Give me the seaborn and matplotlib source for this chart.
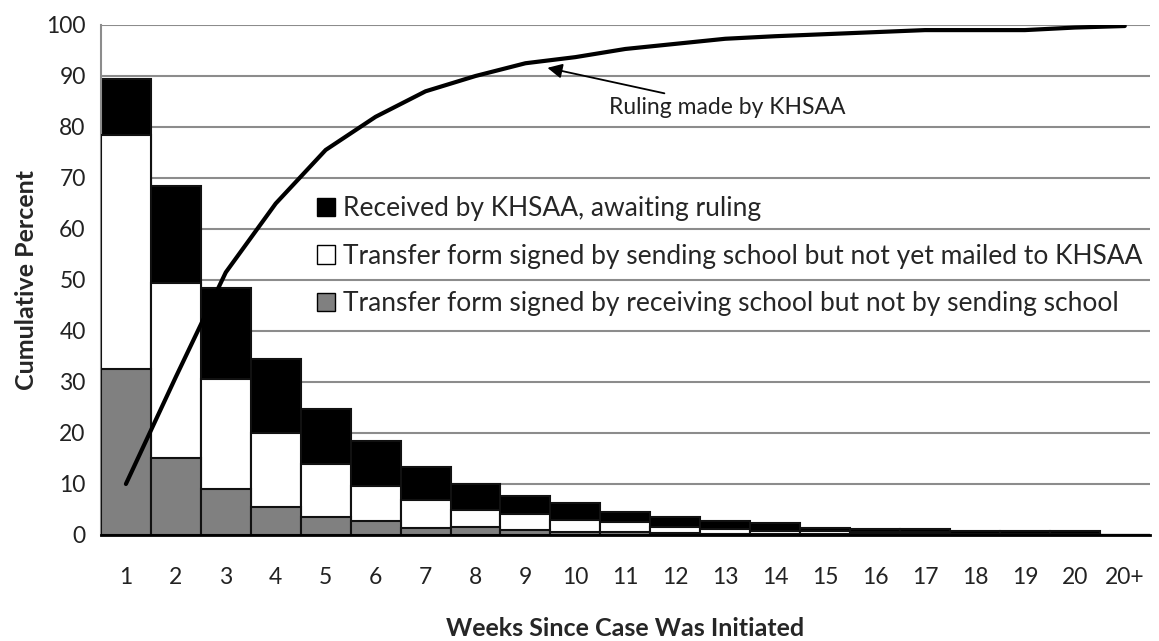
import numpy as np
import pandas as pd
import matplotlib
matplotlib.use("Agg")
import matplotlib.pyplot as plt
from matplotlib.patches import Patch
import seaborn as sns

# values (cumulative heights of each stack level)
weeks = ['1', '2', '3', '4', '5', '6', '7', '8', '9', '10',
         '11', '12', '13', '14', '15', '16', '17', '18', '19', '20', '20+']
receiving = [32.5, 15, 9, 5.5, 3.5, 2.8, 1.4, 1.5, 1.0, 0.6,
             0.6, 0.3, 0.2, 0.1, 0.1, 0.1, 0.1, 0.0, 0.0, 0.0, 0.0]
sending_top = [78.5, 49.5, 30.5, 20, 14, 9.6, 6.9, 4.8, 4.1, 2.9,
               2.5, 1.6, 1.2, 0.8, 0.7, 0.5, 0.5, 0.2, 0.2, 0.2, 0.0]
total = [89.5, 68.5, 48.5, 34.5, 24.8, 18.5, 13.3, 9.9, 7.7, 6.3,
         4.6, 3.5, 2.7, 2.4, 1.4, 1.2, 1.2, 0.8, 0.8, 0.8, 0.0]
ruling = [10, 31, 51.5, 65, 75.5, 82, 87, 90, 92.5, 93.7,
          95.3, 96.3, 97.3, 97.8, 98.2, 98.6, 99, 99, 99, 99.5, 99.8]

df = pd.DataFrame({'week': weeks, 'receiving': receiving,
                   'sending_top': sending_top, 'total': total})

sns.set_style("white")
plt.rcParams['font.family'] = ['Lato', 'DejaVu Sans']

fig = plt.figure(figsize=(11.59, 6.41), dpi=100)
ax = fig.add_axes([0.0871, 0.1654, 0.9049, 0.7956])

sns.barplot(data=df, x='week', y='total', color='black', width=1.0,
            edgecolor='#111111', linewidth=1.5, saturation=1, ax=ax, zorder=2)
sns.barplot(data=df, x='week', y='sending_top', color='white', width=1.0,
            edgecolor='#111111', linewidth=1.5, saturation=1, ax=ax, zorder=3)
sns.barplot(data=df, x='week', y='receiving', color='#808080', width=1.0,
            edgecolor='#111111', linewidth=1.5, saturation=1, ax=ax, zorder=4)

x = np.arange(len(weeks))
ax.plot(x, ruling, color='black', lw=3, zorder=5, solid_joinstyle='miter')

ax.annotate('Ruling made by KHSAA', xy=(8.44, 91.6), xytext=(9.68, 83.9),
            fontsize=16.5, color='#222222', va='center', ha='left',
            arrowprops=dict(arrowstyle='-|>', color='black', lw=1.3,
                            mutation_scale=22, shrinkA=0, shrinkB=0))

ax.set_xlim(-0.5, len(weeks) - 0.5)
ax.set_ylim(0, 100)
ax.set_yticks(range(0, 101, 10))
ax.yaxis.grid(True, color='#8c8c8c', lw=1.5, zorder=0)
ax.set_axisbelow(True)

ax.set_xticks(x)
ax.set_xticklabels(weeks)
ax.set_xticks(np.arange(-0.5, len(weeks), 1), minor=True)
ax.tick_params(axis='x', which='major', length=0, pad=23, labelsize=16.5,
               labelcolor='#222222')
ax.tick_params(axis='x', which='minor', length=8, width=1.5, color='black', direction='out')
ax.tick_params(axis='y', length=6, width=1.5, color='#8c8c8c', labelsize=16.5, pad=5,
               labelcolor='#222222')

for s in ['top', 'right']:
    ax.spines[s].set_visible(False)
ax.spines['left'].set_color('#8c8c8c')
ax.spines['left'].set_linewidth(1.5)
ax.spines['bottom'].set_color('black')
ax.spines['bottom'].set_linewidth(2)
ax.spines['bottom'].set_zorder(6)

ax.set_xlabel('Weeks Since Case Was Initiated', fontsize=18, fontweight='bold', labelpad=21)
ax.set_ylabel('Cumulative Percent', fontsize=18, fontweight='bold', labelpad=6)

handles = [Patch(facecolor='black', edgecolor='black'),
           Patch(facecolor='white', edgecolor='black'),
           Patch(facecolor='#808080', edgecolor='black')]
labels = ['Received by KHSAA, awaiting ruling',
          'Transfer form signed by sending school but not yet mailed to KHSAA',
          'Transfer form signed by receiving school but not by sending school']
fig.legend(handles, labels, loc='upper left', bbox_to_anchor=(0.2735, 0.694),
           frameon=False, fontsize=19, handlelength=0.7, handleheight=0.7,
           handletextpad=0.3, labelspacing=0.85, borderaxespad=0, borderpad=0)

fig.savefig('out.png', dpi=100)
